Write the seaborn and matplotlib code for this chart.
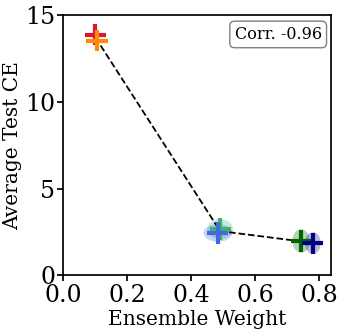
import matplotlib
matplotlib.use("Agg")
import matplotlib.pyplot as plt
from matplotlib.patches import Ellipse
import seaborn as sns
import pandas as pd

# per-model points (mean weight, mean CE) and spread
weights = [0.099, 0.105, 0.49, 0.483, 0.743, 0.78]
test_ce = [13.87, 13.52, 2.67, 2.44, 1.98, 1.86]
w_spread = [0.0, 0.0, 0.08, 0.09, 0.055, 0.05]
ce_spread = [0.0, 0.0, 1.15, 1.0, 1.35, 1.25]
colors = ["crimson", "darkorange", "mediumseagreen", "royalblue", "darkgreen", "navy"]

# dashed trend through group means
trend_w = [0.10, 0.49, 0.76]
trend_ce = [13.7, 2.55, 1.92]
corr = -0.96

sns.set_theme(style="ticks")
plt.rcParams["font.family"] = ["DejaVu Serif"]
plt.rcParams["text.color"] = "black"
plt.rcParams["axes.labelcolor"] = "black"

fig = plt.figure(figsize=(3.41, 3.31), dpi=100)
ax = fig.add_axes([0.186, 0.168, 0.785, 0.787])

for i in range(len(weights)):
    if w_spread[i] > 0:
        ax.add_patch(Ellipse((weights[i], test_ce[i]), w_spread[i], ce_spread[i],
                             color=colors[i], alpha=0.28, lw=0))

sns.lineplot(x=trend_w, y=trend_ce, ax=ax, color="black", linestyle="--", lw=1.3)

df = pd.DataFrame({"w": weights, "ce": test_ce, "c": colors})
sns.scatterplot(data=df, x="w", y="ce", hue="c", palette=dict(zip(colors, colors)),
                marker="+", s=230, linewidth=3, ax=ax, legend=False, zorder=5)

ax.set_xlim(0, 0.837)
ax.set_ylim(0, 15)
ax.set_xticks([0.0, 0.2, 0.4, 0.6, 0.8])
ax.set_yticks([0, 5, 10, 15])
ax.tick_params(labelsize=17, colors="black", direction="out", length=4, pad=2)
ax.set_xlabel("Ensemble Weight", fontsize=14.5, labelpad=2)
ax.set_ylabel("Average Test CE", fontsize=14.5, labelpad=2)
for s in ax.spines.values():
    s.set_color("black")

ax.text(0.965, 0.925, f"Corr. {corr}", transform=ax.transAxes, ha="right", va="center",
        fontsize=11.5, bbox=dict(boxstyle="round,pad=0.3", fc="white", ec="gray"))

fig.savefig("out.png", dpi=100)
